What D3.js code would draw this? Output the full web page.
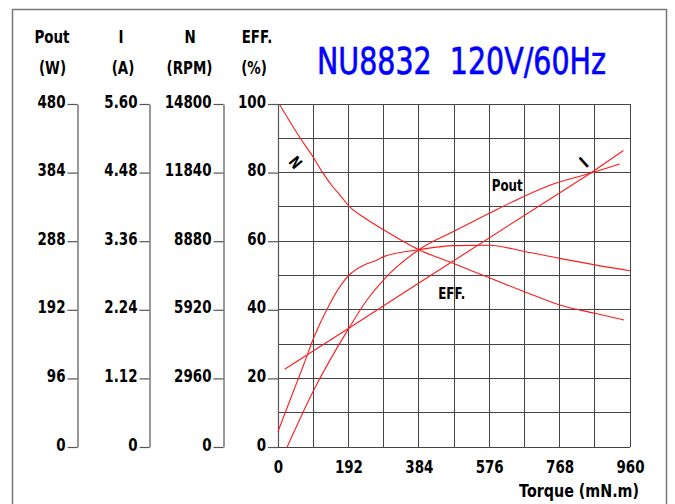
<!DOCTYPE html>
<html><head><meta charset="utf-8">
<script src="https://cdn.jsdelivr.net/npm/d3@7"></script>
<style>body{margin:0;background:#fff}svg{display:block}</style>
</head><body>
<script>
// ---------- data ----------
const poutTicks = [0, 96, 192, 288, 384, 480];
const poutTickLabels = ["0", "96", "192", "288", "384", "480"];
const currentTicks = [0, 1.12, 2.24, 3.36, 4.48, 5.60];
const currentTickLabels = ["0", "1.12", "2.24", "3.36", "4.48", "5.60"];
const speedTicks = [0, 2960, 5920, 8880, 11840, 14800];
const speedTickLabels = ["0", "2960", "5920", "8880", "11840", "14800"];
const effTicks = [0, 20, 40, 60, 80, 100];
const effTickLabels = ["0", "20", "40", "60", "80", "100"];
const torqueTicks = [0, 192, 384, 576, 768, 960];
const torqueTickLabels = ["0", "192", "384", "576", "768", "960"];

const speedTorque = [5, 61, 98, 120, 150, 170, 193, 240, 288, 384, 479, 576, 672, 768, 864, 944];
const speedRPM = [14760, 13320, 12460, 11880, 11220, 10850, 10400, 9850, 9370, 8510, 7920, 7300, 6700, 6130, 5770, 5480];
const effTorque = [0, 35, 70, 98, 140, 175, 193, 230, 270, 288, 384, 480, 576, 672, 768, 864, 960];
const effPct = [4.5, 14.3, 24, 32, 41.5, 47.7, 50, 52.8, 54.5, 55.5, 57.5, 58.7, 58.8, 57.0, 55.0, 53.1, 51.4];
const poutTorque = [25, 98, 193, 243, 288, 384, 480, 576, 672, 745, 852, 932];
const poutW = [0, 80, 166, 206, 234, 276, 302, 327, 351, 367, 383, 396];
const currentTorque = [18, 193, 398, 852, 942];
const currentA = [1.27, 1.94, 2.73, 4.47, 4.84];

const titleText = "NU8832\u00a0\u00a0120V/60Hz";
const xTitle = "Torque (mN.m)";

// ---------- layout ----------
const W = 675, H = 504;
const plotL = 278, plotR = 630, plotT = 104, plotB = 447;
const FONT = '"DejaVu Sans", sans-serif';
const NARROW = 0.79;

const svg = d3.select("body").append("svg").attr("width", W).attr("height", H);

svg.append("rect").attr("x", 12.5).attr("y", 9.5).attr("width", 654).attr("height", 530)
  .attr("fill", "none").attr("stroke", "#777").attr("stroke-width", 1.5);

const x = d3.scaleLinear().domain([0, 960]).range([plotL, plotR]);
const yEff = d3.scaleLinear().domain([0, 100]).range([plotB, plotT]);
const yPout = d3.scaleLinear().domain([0, 480]).range([plotB, plotT]);
const yI = d3.scaleLinear().domain([0, 5.6]).range([plotB, plotT]);
const yN = d3.scaleLinear().domain([0, 14800]).range([plotB, plotT]);

// grid
const grid = svg.append("g").attr("stroke", "#444").attr("stroke-width", 1).attr("shape-rendering", "crispEdges");
grid.selectAll("line.v").data(d3.range(0, 961, 96)).join("line").attr("class", "v")
  .attr("x1", d => x(d)).attr("x2", d => x(d)).attr("y1", plotT).attr("y2", plotB);
grid.selectAll("line.h").data(d3.range(0, 101, 10)).join("line").attr("class", "h")
  .attr("x1", plotL).attr("x2", plotR).attr("y1", d => yEff(d)).attr("y2", d => yEff(d));

// left axes
function leftAxis(scale, ticks, labels, xPos) {
  const g = svg.append("g").attr("transform", `translate(${xPos},0)`)
    .call(d3.axisLeft(scale).tickValues(ticks).tickFormat((d, i) => labels[i])
      .tickSize(10).tickSizeOuter(0).tickPadding(2));
  g.attr("font-size", 17).attr("font-family", FONT).attr("font-weight", "bold");
  g.selectAll("path.domain").attr("stroke", "#555").attr("stroke-width", 1.2);
  g.selectAll(".tick line").attr("stroke", "#555").attr("stroke-width", 1.2);
  g.selectAll(".tick text").attr("fill", "#000").attr("dy", "0.18em");
  return g;
}
leftAxis(yPout, poutTicks, poutTickLabels, 77.5);
leftAxis(yI, currentTicks, currentTickLabels, 149.5);
leftAxis(yN, speedTicks, speedTickLabels, 223.5);
leftAxis(yEff, effTicks, effTickLabels, plotL);

// bottom axis
const gx = svg.append("g").attr("transform", `translate(0,${plotB})`)
  .call(d3.axisBottom(x).tickValues(torqueTicks).tickFormat((d, i) => torqueTickLabels[i])
    .tickSize(0).tickPadding(14));
gx.attr("font-size", 17).attr("font-family", FONT).attr("font-weight", "bold");
gx.select("path.domain").remove();
gx.selectAll(".tick text").attr("fill", "#000");

// headers
const headers = [
  ["Pout", 52, 43], ["(W)", 52.5, 74],
  ["I", 121, 43], ["(A)", 123, 74],
  ["N", 190, 43], ["(RPM)", 189.5, 74],
  ["EFF.", 257, 43], ["(%)", 254, 74]
];
svg.append("g").selectAll("text").data(headers).join("text")
  .attr("x", d => d[1]).attr("y", d => d[2]).attr("text-anchor", "middle")
  .attr("font-family", FONT).attr("font-weight", "bold").attr("font-size", 17)
  .text(d => d[0]);

// curves
const curves = svg.append("g").attr("fill", "none").attr("stroke", "#ff1a1a").attr("stroke-width", 1.1);
function drawSeries(tx, vy, yScale, curve) {
  const pts = tx.map((t, i) => [t, vy[i]]);
  curves.append("path").datum(pts)
    .attr("d", d3.line().x(d => x(d[0])).y(d => yScale(d[1])).curve(curve));
}
drawSeries(speedTorque, speedRPM, yN, d3.curveMonotoneX);
drawSeries(effTorque, effPct, yEff, d3.curveMonotoneX);
drawSeries(poutTorque, poutW, yPout, d3.curveMonotoneX);
drawSeries(currentTorque, currentA, yI, d3.curveLinear);

// curve labels
const lab = svg.append("g").attr("font-family", FONT).attr("font-weight", "bold").attr("fill", "#000");
lab.append("text").attr("font-size", 15).attr("x", x(583)).attr("y", yEff(74.5)).text("Pout");
lab.append("text").attr("font-size", 15).attr("x", x(437)).attr("y", yEff(43.2)).text("EFF.");
lab.append("text").attr("font-size", 16).attr("text-anchor", "middle").attr("dy", "0.36em")
  .attr("transform", `translate(${x(48)},${yEff(83)}) rotate(50)`).text("N");
lab.append("text").attr("font-size", 17).attr("text-anchor", "middle").attr("dy", "0.36em")
  .attr("transform", `translate(${x(834)},${yEff(83)}) rotate(-42)`).text("I");

// narrow all bold texts
svg.selectAll("text").each(function () {
  const w = this.getComputedTextLength();
  this.setAttribute("textLength", w * NARROW);
  this.setAttribute("lengthAdjust", "spacingAndGlyphs");
});

// x title (slightly wider)
const xt = svg.append("text").attr("x", 639).attr("y", 497).attr("text-anchor", "end")
  .attr("font-family", FONT).attr("font-weight", "bold").attr("font-size", 17).text(xTitle);
xt.attr("textLength", xt.node().getComputedTextLength() * 0.84).attr("lengthAdjust", "spacingAndGlyphs");

// title, narrowed with a transform
const tg = svg.append("g");
const tt = tg.append("text").attr("x", 0).attr("y", 0).attr("fill", "#0000ff")
  .attr("stroke", "#0000ff").attr("stroke-width", 0.7)
  .attr("font-family", FONT).attr("font-size", 37).text(titleText);
const k = 289 / tt.node().getComputedTextLength();
tg.attr("transform", `translate(317,74) scale(${k},1)`);
</script>
</body></html>
